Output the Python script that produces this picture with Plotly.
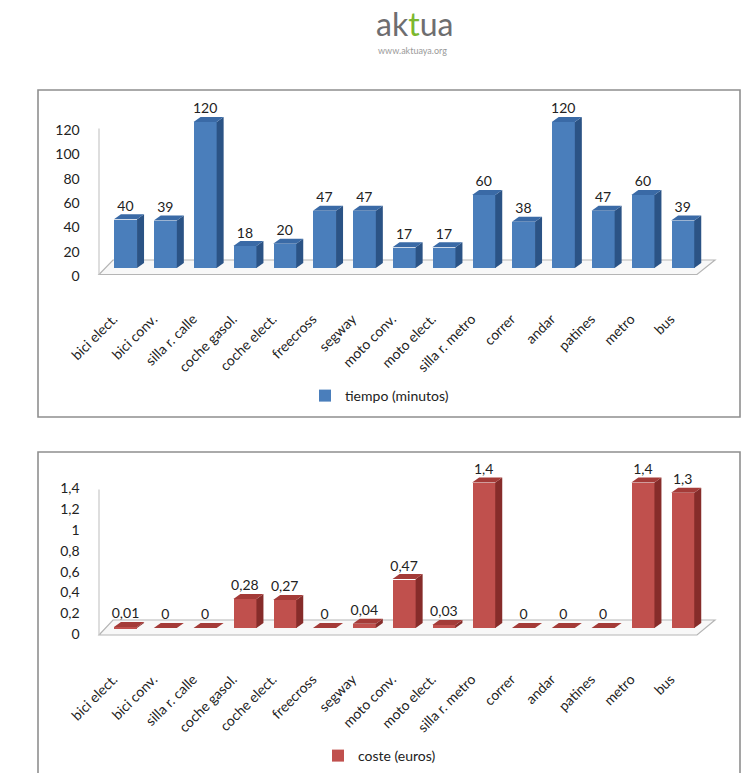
import plotly.graph_objects as go

# ---------------- data ----------------
categories = ["bici elect.", "bici conv.", "silla r. calle", "coche gasol.", "coche elect.",
              "freecross", "segway", "moto conv.", "moto elect.", "silla r. metro",
              "correr", "andar", "patines", "metro", "bus"]
tiempo = [40, 39, 120, 18, 20, 47, 47, 17, 17, 60, 38, 120, 47, 60, 39]
coste = [0.01, 0, 0, 0.28, 0.27, 0, 0.04, 0.47, 0.03, 1.4, 0, 0, 0, 1.4, 1.3]
tiempo_ticks = [0, 20, 40, 60, 80, 100, 120]
coste_ticks = [0, 0.2, 0.4, 0.6, 0.8, 1.0, 1.2, 1.4]
series_names = ["tiempo (minutos)", "coste (euros)"]


def es(v):
    s = ("%g" % v)
    return s.replace(".", ",")


# ---------------- geometry / style ----------------
W, H = 755, 773
FONT = "Lato"
CAT_PX = 39.8
CAT0_PX = 125.5
X_RANGE = [-0.75, 15.1]
HALF_W = 0.29
DX_PX, DY_PX = 7, 5

panels = [
    dict(values=tiempo, ticks=tiempo_ticks, name=series_names[0], base_px=268, unit_px=1.217,
         yrange=[-10, 135], front="#4a7ebb", top="#3a6aa6", side="#2b5385",
         floor_front_px=274.5, floor_back_px=260, axis_top=120, tshift=8,
         legend_x=305, legend_y=396, xa="x", ya="y", legend="legend"),
    dict(values=coste, ticks=coste_ticks, name=series_names[1], base_px=628, unit_px=104.0,
         yrange=[-0.12, 1.62], front="#c0504d", top="#a43b38", side="#862c2a",
         floor_front_px=635, floor_back_px=620, axis_top=1.4, tshift=6,
         legend_x=318, legend_y=756, xa="x2", ya="y2", legend="legend2"),
]

fig = go.Figure()
shapes = []
x_dom = [(CAT0_PX + X_RANGE[0] * CAT_PX) / W, (CAT0_PX + X_RANGE[1] * CAT_PX) / W]
xs = list(range(len(categories)))
dx = DX_PX / CAT_PX

for k, p in enumerate(panels):
    vals = p["values"]
    u = p["unit_px"]
    dy = DY_PX / u
    # front faces
    fig.add_trace(go.Bar(
        x=xs, y=vals, width=2 * HALF_W, name=p["name"],
        marker=dict(color=p["front"], line=dict(width=0)),
        xaxis=p["xa"], yaxis=p["ya"], legend=p["legend"], showlegend=True,
        hoverinfo="skip"))
    # value labels
    fig.add_trace(go.Scatter(
        x=xs, y=[v + dy for v in vals], mode="text",
        text=[es(v) for v in vals], textposition="top center",
        textfont=dict(family=FONT, size=14, color="#222"),
        xaxis=p["xa"], yaxis=p["ya"], showlegend=False, hoverinfo="skip",
        cliponaxis=False))
    # 3D side + top faces
    xr, yr = p["xa"], p["ya"]
    for i, v in enumerate(vals):
        side = (f"M{i + HALF_W},0 L{i + HALF_W},{v} L{i + HALF_W + dx},{v + dy} "
                f"L{i + HALF_W + dx},{dy} Z")
        top = (f"M{i - HALF_W},{v} L{i + HALF_W},{v} L{i + HALF_W + dx},{v + dy} "
               f"L{i - HALF_W + dx},{v + dy} Z")
        shapes.append(dict(type="path", path=side, xref=xr, yref=yr,
                           fillcolor=p["side"], line=dict(width=0), layer="above"))
        shapes.append(dict(type="path", path=top, xref=xr, yref=yr,
                           fillcolor=p["top"], line=dict(width=0), layer="above"))
    # floor
    ff = (p["base_px"] - p["floor_front_px"]) / u
    fb = (p["base_px"] - p["floor_back_px"]) / u
    xl_f = (99 - CAT0_PX) / CAT_PX
    xl_b = (113 - CAT0_PX) / CAT_PX
    xr_f = (697 - CAT0_PX) / CAT_PX
    xr_b = (715 - CAT0_PX) / CAT_PX
    floor = f"M{xl_f},{ff} L{xr_f},{ff} L{xr_b},{fb} L{xl_b},{fb} Z"
    shapes.append(dict(type="path", path=floor, xref=xr, yref=yr,
                       fillcolor="#f8f8f8", line=dict(color="#b5b5b5", width=1.2),
                       layer="below"))
    # vertical axis line
    shapes.append(dict(type="line", x0=xl_f, x1=xl_f, y0=ff, y1=p["axis_top"] + ff,
                       xref=xr, yref=yr, line=dict(color="#c8c8c8", width=1.2),
                       layer="below"))
    # domain
    y_top_px = p["base_px"] - p["yrange"][1] * u
    y_bot_px = p["base_px"] - p["yrange"][0] * u
    y_dom = [1 - y_bot_px / H, 1 - y_top_px / H]
    suffix = "" if k == 0 else "2"
    fig.update_layout(**{
        "xaxis" + suffix: dict(domain=x_dom, range=X_RANGE, tickmode="array",
                               tickvals=xs, ticktext=categories, tickangle=-45,
                               showgrid=False, zeroline=False, showline=False,
                               ticks="", ticklabelstandoff=27, ticklabelshift=-12,
                               tickfont=dict(family=FONT, size=14, color="#222"),
                               anchor="y" + suffix, fixedrange=True, automargin=False),
        "yaxis" + suffix: dict(domain=y_dom, range=p["yrange"], tickmode="array",
                               tickvals=p["ticks"], ticktext=[es(t) for t in p["ticks"]],
                               showgrid=False, zeroline=False, showline=False,
                               ticks="", ticklabelstandoff=15, ticklabelshift=p["tshift"],
                               tickfont=dict(family=FONT, size=14, color="#222"),
                               anchor="x" + suffix, fixedrange=True, automargin=False),
        p["legend"]: dict(x=p["legend_x"] / W, y=1 - p["legend_y"] / H,
                          xanchor="left", yanchor="middle", orientation="h",
                          font=dict(family=FONT, size=14, color="#222"),
                          bgcolor="rgba(0,0,0,0)", itemwidth=30),
    })

# panel borders
shapes.append(dict(type="rect", xref="paper", yref="paper",
                   x0=38 / W, x1=740 / W, y0=1 - 417 / H, y1=1 - 90 / H,
                   line=dict(color="#8f8f8f", width=1.6), fillcolor="rgba(0,0,0,0)",
                   layer="below"))
shapes.append(dict(type="rect", xref="paper", yref="paper",
                   x0=38 / W, x1=740 / W, y0=-0.05, y1=1 - 452 / H,
                   line=dict(color="#8f8f8f", width=1.6), fillcolor="rgba(0,0,0,0)",
                   layer="below"))

annotations = [
    dict(text="ak<span style='color:#7cb82f'>t</span>ua", x=414 / W, y=1 - 24 / H,
         xref="paper", yref="paper", showarrow=False, xanchor="center", yanchor="middle",
         font=dict(family=FONT, size=32, color="#6e6e70")),
    dict(text="www.aktuaya.org", x=412 / W, y=1 - 51 / H,
         xref="paper", yref="paper", showarrow=False, xanchor="center", yanchor="middle",
         font=dict(family=FONT, size=9, color="#9a9a9a")),
]

fig.update_layout(
    width=W, height=H, margin=dict(l=0, r=0, t=0, b=0, autoexpand=False),
    paper_bgcolor="white", plot_bgcolor="rgba(0,0,0,0)",
    shapes=shapes, annotations=annotations, bargap=0,
    font=dict(family=FONT, color="#222"),
)

fig.write_html("out.html")
